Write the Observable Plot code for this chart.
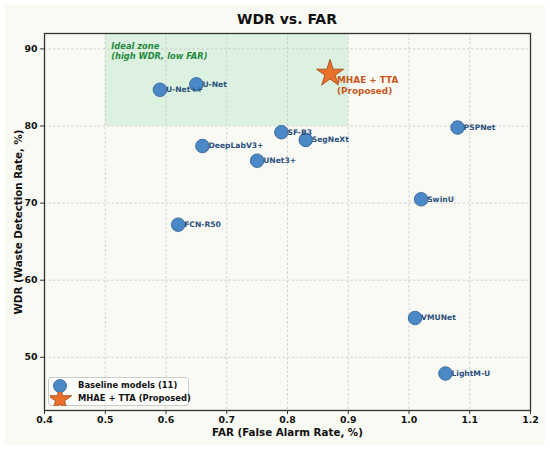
<!DOCTYPE html>
<html><head><meta charset="utf-8">
<script src="https://cdn.jsdelivr.net/npm/d3@7"></script>
<script src="https://cdn.jsdelivr.net/npm/@observablehq/plot@0.6"></script>
<style>
html,body{margin:0;padding:0;background:#fff;}
#fig{position:absolute;left:5px;top:5px;width:540px;height:440px;background:#fafaf4;font-family:"DejaVu Sans",sans-serif;}
#title{height:25px;line-height:29px;padding-left:24px;text-align:center;font-weight:bold;font-size:14px;color:#111;}
#legend{position:absolute;left:43px;top:372px;width:139px;height:27px;border:1px solid #ccc;border-radius:3px;background:rgba(255,255,255,0.85);font-size:8.4px;font-weight:bold;color:#111;}
#legend div{position:absolute;left:0;height:13px;line-height:13px;}
#legend svg{position:absolute;left:1px;}
#legend span{position:absolute;left:29px;white-space:nowrap;}
</style></head>
<body>
<div id="fig"><div id="title">WDR vs. FAR</div><div id="chart"></div>
<div id="legend">
<div style="top:1px"><svg width="24" height="14"><circle cx="10" cy="7" r="6.5" fill="#4a88c7" stroke="#2a5a8c" stroke-width="0.8"/></svg><span>Baseline models (11)</span></div>
<div style="top:14px"><svg width="24" height="14" id="legstar"></svg><span>MHAE + TTA (Proposed)</span></div>
</div>
</div>
<script>
const models = ["U-Net++","U-Net","DeepLabV3+","UNet3+","SF-B3","SegNeXt","PSPNet","SwinU","FCN-R50","VMUNet","LightM-U"];
const far = [0.59,0.65,0.66,0.75,0.79,0.83,1.08,1.02,0.62,1.01,1.06];
const wdr = [84.7,85.4,77.4,75.5,79.2,78.2,79.8,70.5,67.2,55.1,47.9];
const proposedName = ["MHAE + TTA\n(Proposed)"];
const proposedFar = [0.87];
const proposedWdr = [86.8];
const zoneFar = [0.5, 0.9];
const zoneWdr = [80, 92];
const xTicks = [0.4,0.5,0.6,0.7,0.8,0.9,1.0,1.1,1.2];
const yTicks = [50,60,70,80,90];

const base = models.map((m,i)=>({name:m, far:far[i], wdr:wdr[i]}));
const prop = proposedName.map((m,i)=>({name:m, far:proposedFar[i], wdr:proposedWdr[i]}));
const zone = [{x1:zoneFar[0], x2:zoneFar[1], y1:zoneWdr[0], y2:zoneWdr[1]}];

const chart = Plot.plot({
  width:540, height:415,
  marginLeft:39, marginRight:15, marginTop:3, marginBottom:35,
  style:{background:"transparent", fontFamily:"DejaVu Sans, sans-serif", color:"#111"},
  x:{domain:[0.4,1.2]},
  y:{domain:[43.1,92]},
  marks:[
    Plot.rect(zone,{x1:"x1",x2:"x2",y1:"y1",y2:"y2",fill:"#dcf1df"}),
    Plot.gridX(xTicks,{stroke:"#c8c8c8",strokeDasharray:"2.5,2",strokeOpacity:0.8}),
    Plot.gridY(yTicks,{stroke:"#c8c8c8",strokeDasharray:"2.5,2",strokeOpacity:0.8}),
    Plot.text(zone,{x:"x1",y:"y2",text:()=>"Ideal zone\n(high WDR, low FAR)",dx:6,dy:9,lineAnchor:"top",textAnchor:"start",fill:"#1f8a40",fontSize:8.3,fontWeight:"bold",fontStyle:"italic",lineHeight:1.15}),
    Plot.axisX({ticks:xTicks,tickFormat:d3.format(".1f"),tickSize:4,tickPadding:2,fontSize:9.4,fontWeight:"bold",label:null,stroke:"#333"}),
    Plot.axisY({ticks:yTicks,tickSize:4,tickPadding:3,fontSize:9.4,fontWeight:"bold",label:null,stroke:"#333"}),
    Plot.frame({stroke:"#333",strokeWidth:1.3}),
    Plot.dot(base,{x:"far",y:"wdr",r:6.8,fill:"#4a88c7",stroke:"#2a5a8c",strokeWidth:0.8}),
    Plot.text(base,{x:"far",y:"wdr",text:"name",dx:6,textAnchor:"start",fill:"#2b4f7e",fontSize:7.6,fontWeight:"bold"}),
    Plot.dot(prop,{x:"far",y:"wdr",symbol:"star",r:8.5,fill:"#e8702a",stroke:"#a0400f",strokeWidth:0.8}),
    Plot.text(prop,{x:"far",y:"wdr",text:"name",dx:7,dy:2,lineAnchor:"top",textAnchor:"start",fill:"#c9561c",fontSize:8.9,fontWeight:"bold",lineHeight:1.2}),
    Plot.text(["FAR (False Alarm Rate, %)"],{frameAnchor:"bottom",textAnchor:"middle",dy:25.5,text:d=>d,fontSize:10.3,fontWeight:"bold",fill:"#111"}),
    Plot.text(["WDR (Waste Detection Rate, %)"],{frameAnchor:"left",textAnchor:"middle",dx:-26,rotate:-90,text:d=>d,fontSize:10.3,fontWeight:"bold",fill:"#111"})
  ]
});
document.getElementById("chart").appendChild(chart);
const star = d3.symbol(d3.symbolStar, 170)();
d3.select("#legstar").append("path").attr("d",star).attr("transform","translate(10,7.5)").attr("fill","#e8702a").attr("stroke","#a0400f").attr("stroke-width",0.8);
</script>
</body></html>
